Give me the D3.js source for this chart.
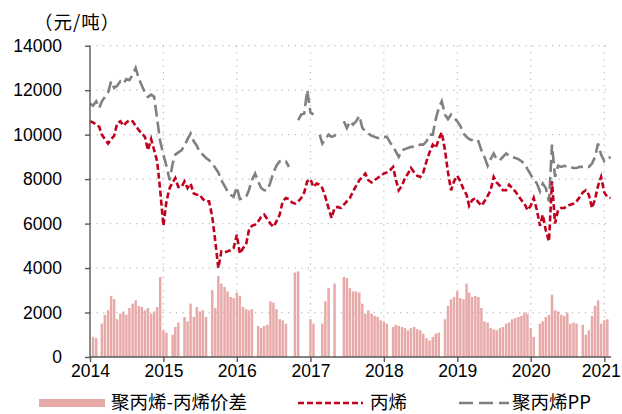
<!DOCTYPE html>
<html lang="zh">
<head>
<meta charset="UTF-8" />
<script src="https://d3js.org/d3.v7.min.js"></script>
<title>聚丙烯-丙烯价差</title>
<style>
  body { margin: 0; background: #fff; }
  svg text { font-family: "Liberation Sans", Arial, sans-serif; fill: #000; }
  .cjk { font-family: "Noto Sans CJK SC", sans-serif; }
  .grid line { stroke: #bfbfbf; stroke-width: 1.2; stroke-dasharray: 1.3,5.3; }
  .axis path, .axis line { stroke: #595959; stroke-width: 1.4; }
</style>
</head>
<body>
<script>
// semi-monthly observations: 1st and 16th of every month, Jan 2014 .. Feb 2021
var startYear = 2014;
var yTicks = [0, 2000, 4000, 6000, 8000, 10000, 12000, 14000];
var xTickYears = [2014, 2015, 2016, 2017, 2018, 2019, 2020, 2021];

// 丙烯 (propylene), 元/吨
var propylene = [
  10600,10550,10450,10350,10000,9800,9600,9800,9950,10500,10600,10400,
  10550,10650,10600,10400,10200,10050,9900,9300,9800,9300,8800,7500,
  5900,7000,7600,7850,8050,7650,7650,7900,7600,7800,7350,7300,
  7300,7100,7000,7000,6300,5200,4000,4750,4700,4750,4800,4900,
  5500,4650,4900,5050,5700,5900,5950,6100,6300,6400,6200,6000,
  5850,6100,6400,7000,7150,7100,6950,6900,7000,7150,7400,7900,
  8000,7650,7800,7750,7600,7200,6700,6250,6700,6750,6700,6850,
  7000,7150,7450,7700,7950,8100,8250,7950,7850,7950,8050,8150,
  8250,8300,8400,8550,8000,7500,7700,8050,8250,8500,8300,8150,
  8100,8300,8800,9200,9550,9400,9800,10100,9300,8300,7500,7900,
  8150,7900,7550,7300,6800,7050,7150,6950,6800,7000,7250,7500,
  8100,7850,7700,7500,7500,7750,7600,7450,7250,7050,6900,6600,
  6800,7150,6600,5900,6400,5700,5200,7900,6000,6600,6700,6700,
  6800,6850,6900,7000,7200,7400,7500,7300,6700,7100,7700,8100,
  7400,7200,7150
];

// 聚丙烯PP, 元/吨 (null = no quote)
var pp = [
  11400,11300,11500,11200,11500,11700,11900,12400,12100,12200,12400,12300,
  12500,12450,12700,13000,12500,12200,11900,11700,11800,11700,10700,9700,
  9100,8600,7950,8700,9100,9200,9300,9500,9800,10050,9700,9500,
  9200,9100,8950,8850,8700,8500,8300,7950,7700,7450,7300,7200,
  7650,7100,7150,7200,7500,7950,8250,7900,7600,7500,7500,7850,
  8300,8600,8800,8850,8800,8550,null,null,10650,10900,10950,12000,
  11000,10900,null,10000,9600,9800,10000,9900,9950,10200,null,10600,
  10300,10600,10450,10600,10850,10300,10150,10050,9950,9900,9850,9850,
  9900,9900,9650,9450,9250,9000,9300,9350,9400,9450,9450,9500,
  9550,9550,9700,10000,10000,10700,11200,11500,10900,10700,10900,10750,
  10600,10400,10050,9900,9800,9750,9650,9700,9300,9000,8600,8900,
  9150,8900,8850,9000,9150,9050,9000,8950,8900,8800,8700,8450,
  8200,8000,7800,7450,7800,7600,7000,9550,8100,8600,8550,8600,
  8550,8550,8500,8500,8550,8550,8550,8550,8700,9000,9600,9100,
  8800,8900,9000
];

// 聚丙烯-丙烯价差, 元/吨 (null = no value)
var spread = [
  null,900,850,null,1500,1900,2100,2750,2600,1700,1950,2050,
  1900,2200,2400,2550,2300,2250,2100,2200,1950,2050,2250,3600,
  1200,1100,null,1000,1350,1550,null,1800,1600,2400,1800,2250,
  2050,2100,1800,null,3000,2200,3650,3300,3150,2950,2700,2650,
  2900,2750,2250,2150,2100,2150,null,1400,1300,1400,1450,2500,
  2450,2150,1700,1650,1500,null,null,3800,3850,null,null,null,
  1700,1500,null,null,1500,2500,3100,null,3300,null,null,3600,
  3550,3100,2950,2950,2900,2400,1950,2100,1950,1850,1800,1650,
  1600,1500,null,1350,1450,1400,1350,1300,1200,1300,1350,1250,
  1200,1050,850,750,900,1050,1100,null,1700,2300,2600,2700,
  2950,2650,2600,3300,2900,2700,2750,2700,2200,1600,1550,1300,
  1250,1200,1300,1350,1500,1550,1700,1750,1800,1850,2000,1950,
  1300,900,null,1500,1600,1800,1900,2800,2100,2050,1900,1850,
  2000,1500,1550,1500,null,1450,1000,1200,1850,2300,2550,1500,
  1650,1700,null
];

function obsDate(i) {
  var y = startYear + Math.floor(i / 24);
  var m = Math.floor((i % 24) / 2);
  return new Date(y, m, i % 2 ? 16 : 1);
}

var width = 622, height = 414;
var svg = d3.select("body").append("svg")
  .attr("width", width).attr("height", height);

var x = d3.scaleTime()
  .domain([new Date(2014, 0, 1), new Date(2021, 0, 1)])
  .range([90, 604.3]);
var y = d3.scaleLinear().domain([0, 14000]).range([357, 45.7]);
var right = 611;

// grid
var grid = svg.append("g").attr("class", "grid");
grid.selectAll(".h").data(yTicks.slice(1)).enter().append("line")
  .attr("x1", 90).attr("x2", right)
  .attr("y1", function(d){ return y(d); }).attr("y2", function(d){ return y(d); });
grid.selectAll(".v").data(xTickYears.slice(1)).enter().append("line")
  .attr("x1", function(d){ return x(new Date(d, 0, 1)); })
  .attr("x2", function(d){ return x(new Date(d, 0, 1)); })
  .attr("y1", y(14000)).attr("y2", y(0));

// spread bars
var barData = spread.map(function(v, i){ return { d: obsDate(i), v: v }; })
  .filter(function(o){ return o.v != null; });
svg.append("g").selectAll("rect").data(barData).enter().append("rect")
  .attr("x", function(o){ return x(o.d) - 1.25; })
  .attr("width", 2.5)
  .attr("y", function(o){ return y(o.v); })
  .attr("height", function(o){ return y(0) - y(o.v); })
  .attr("fill", "#e8aaa9");

// lines
var line = d3.line()
  .defined(function(o){ return o.v != null; })
  .x(function(o){ return x(o.d); })
  .y(function(o){ return y(o.v); });

svg.append("path")
  .datum(pp.map(function(v, i){ return { d: obsDate(i), v: v }; }))
  .attr("d", line)
  .attr("fill", "none").attr("stroke", "#808080")
  .attr("stroke-width", 2.6).attr("stroke-dasharray", "12,5");

svg.append("path")
  .datum(propylene.map(function(v, i){ return { d: obsDate(i), v: v }; }))
  .attr("d", line)
  .attr("fill", "none").attr("stroke", "#c0001f")
  .attr("stroke-width", 2.6).attr("stroke-dasharray", "6,3");

// axes
var yAxis = svg.append("g").attr("class", "axis")
  .attr("transform", "translate(90,0)")
  .call(d3.axisLeft(y).tickValues(yTicks).tickFormat(d3.format("d"))
    .tickSize(5).tickPadding(23).tickSizeOuter(0));
var xAxis = svg.append("g").attr("class", "axis")
  .attr("transform", "translate(0,357)")
  .call(d3.axisBottom(x)
    .tickValues(xTickYears.map(function(d){ return new Date(d, 0, 1); }))
    .tickFormat(d3.timeFormat("%Y")).tickSize(5).tickPadding(3).tickSizeOuter(0));
xAxis.select(".domain").attr("d", "M90,0H" + right);
yAxis.select(".domain").attr("d", "M0," + y(14000) + "V" + y(0));
svg.selectAll(".axis text").attr("font-size", 17.5).attr("fill", "#000")
  .style("font-family", "'Liberation Sans', Arial, sans-serif");
// last year label kept inside the picture
xAxis.selectAll(".tick text").filter(function(d){ return d.getFullYear() === 2021; })
  .attr("text-anchor", "end").attr("x", 16);

// unit
svg.append("text").attr("class", "cjk")
  .attr("x", 34).attr("y", 29).attr("font-size", 18.5)
  .attr("letter-spacing", 1)
  .text("（元/吨）");

// legend
var ly = 403;
svg.append("rect").attr("x", 39).attr("y", ly - 4).attr("width", 66).attr("height", 8)
  .attr("fill", "#e8aaa9");
svg.append("text").attr("class", "cjk").attr("x", 111).attr("y", ly + 5.5)
  .attr("font-size", 18.5).text("聚丙烯-丙烯价差");
svg.append("line").attr("x1", 298).attr("x2", 363).attr("y1", ly).attr("y2", ly)
  .attr("stroke", "#c0001f").attr("stroke-width", 2.6).attr("stroke-dasharray", "6,3");
svg.append("text").attr("class", "cjk").attr("x", 370).attr("y", ly + 5.5)
  .attr("font-size", 18.5).text("丙烯");
svg.append("line").attr("x1", 459).attr("x2", 509).attr("y1", ly).attr("y2", ly)
  .attr("stroke", "#808080").attr("stroke-width", 2.6).attr("stroke-dasharray", "14,6");
svg.append("text").attr("class", "cjk").attr("x", 512).attr("y", ly + 5.5)
  .attr("font-size", 18.5).text("聚丙烯PP");
</script>
</body>
</html>
